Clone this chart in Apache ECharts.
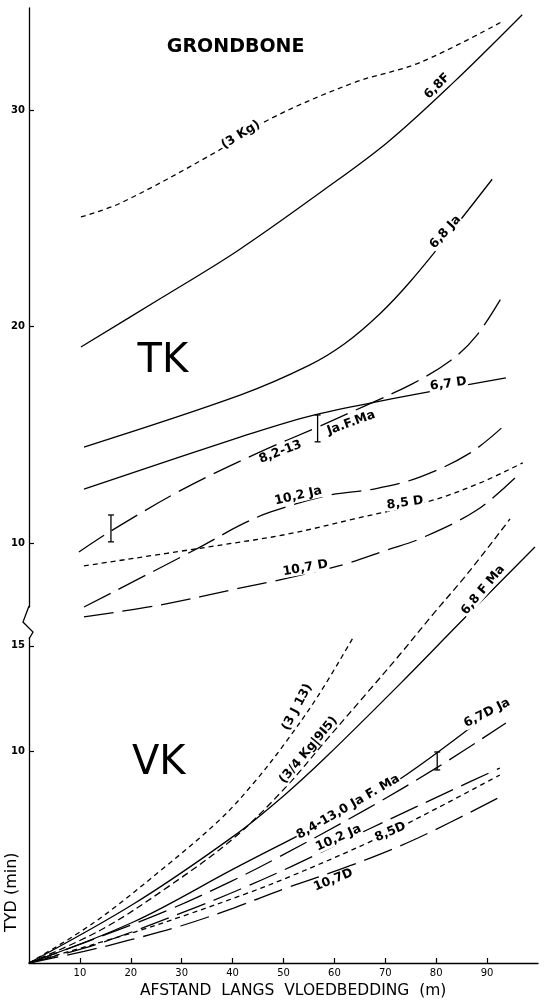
<!DOCTYPE html>
<html>
<head>
<meta charset="utf-8">
<script src="https://cdn.jsdelivr.net/npm/echarts@6/dist/echarts.min.js"></script>
<style>
  html, body { margin: 0; padding: 0; background: #fff; }
  #chart { width: 544px; height: 1003px; }
</style>
</head>
<body>
<div id="chart"></div>
<script>
// x = afstand langs vloedbedding (m), y = tyd (min)

// TK (bo-paneel)
const tk3Kg    = [[10.2,25.06],[18,25.7],[36.3,28.0],[47.5,29.6],[63.7,31.25],[76.9,32.2],[93.1,34.1]];
const tk68F    = [[10.2,19.05],[25.9,21.3],[41,23.5],[57.3,26.2],[70.4,28.5],[83.3,31.25],[96.9,34.4]];
const tk68Ja   = [[10.8,14.43],[41.6,16.84],[55,18.2],[62,19.2],[69,20.6],[75,22.1],[83,24.4],[91,26.8]];
const tk67D    = [[10.8,12.49],[41.6,14.9],[55,15.85],[69,16.55],[93.7,17.62]];
const tk82_13  = [[9.8,9.58],[16.1,10.55],[30,12.45],[44.9,14.15],[56.7,15.35],[65.7,16.3],[75.3,17.35],[82.7,18.4],[88,19.6],[93.5,21.6]];
const tk85D    = [[10.8,8.94],[37.6,9.9],[50.7,10.4],[63.7,11.1],[79,11.95],[88.6,12.77],[97,13.7]];
const tk102Ja  = [[10.8,7.04],[33.7,9.82],[41.6,10.83],[47.5,11.43],[58.8,12.2],[68,12.5],[76.9,13.05],[86.7,14.16],[93.5,15.45]];
const tk107D   = [[10.8,6.58],[25.9,7.14],[41.6,7.92],[48.4,8.25],[61.8,9.0],[70.4,9.68],[76.9,10.2],[88,11.52],[96.1,13.14]];
const tkErr    = [[16.1,10.05,11.29],[56.7,14.67,15.91]];

// VK (onder-paneel)
const vk3J13   = [[0,0],[12.7,1.9],[26.5,4.5],[37.6,6.8],[44.1,8.5],[50,10.3],[56.7,12.6],[63.7,15.4]];
const vk9I5    = [[0,0],[14.1,1.56],[27.3,3.6],[40.2,5.9],[50,8.2],[58.6,10.6],[66.5,12.8],[72.9,14.6],[79.4,16.5],[86.1,18.4],[94.5,21.0]];
const vk68FMa  = [[0,0],[20.6,2.8],[40.2,6.0],[50,7.9],[58.6,9.8],[72.9,13.2],[84.7,16.1],[99.4,19.67]];
const vk67DJa  = [[0,0],[20.6,1.95],[40.2,4.45],[59.8,6.9],[72.9,8.7],[92.5,12.2]];
const vk84_13  = [[0,0],[10.8,0.95],[27.3,2.5],[39.6,3.85],[49,5.0],[66.5,7.3],[80.2,9.25],[93.7,11.35]];
const vk102Ja  = [[0,0],[14.1,0.95],[32.4,2.6],[41.6,3.5],[51.4,4.55],[66.5,6.3],[83.3,8.2],[92.5,9.22]];
const vk85D    = [[0,0],[20.6,1.45],[31.2,2.3],[42.9,3.3],[51.4,4.1],[67.6,5.8],[80,7.3],[92.5,8.89]];
const vk107D   = [[0,0],[10.8,0.55],[20,1.1],[29.8,1.75],[40.2,2.6],[50,3.5],[63.1,4.6],[76.3,5.9],[92.5,7.85]];
const vkErr    = [[80.2,9.13,9.98]];

// tick labels
const xTicks   = [10,20,30,40,50,60,70,80,90];
const tkTicks  = [10,20,30];
const vkTicks  = [10,15];

// annotations [text, x, y]
const tkNotes = [
  ['GRONDBONE', 40.6, 32.9],
  ['(3 Kg)', 41.6, 28.85],
  ['6,8F', 80.2, 31.1],
  ['6,8 Ja', 81.8, 24.36],
  ['TK', 26.3, 18.36],
  ['6,7 D', 82.4, 17.34],
  ['8,2-13', 49.4, 14.2],
  ['Ja.F.Ma', 63.3, 15.54],
  ['10,2 Ja', 52.9, 12.17],
  ['8,5 D', 73.9, 11.85],
  ['10,7 D', 54.3, 8.84]
];
const vkNotes = [
  ['VK', 25.5, 9.41],
  ['(3 J 13)', 52.7, 12.1],
  ['(3/4 Kg|9I5)', 54.9, 10.07],
  ['6,8 F Ma', 89.2, 17.64],
  ['6,7D Ja', 90, 11.82],
  ['8,4-13,0 Ja F. Ma', 62.7, 7.38],
  ['10,2 Ja', 60.8, 5.91],
  ['8,5D', 71, 6.19],
  ['10,7D', 59.8, 3.92]
];

const chart = echarts.init(document.getElementById('chart'));
const font = 'DejaVu Sans';
const ink = '#000';
const SHORT = [5, 4];
const MED = [7, 4];
const LONG = [30, 9];

function curve(data, idx, dash) {
  return {
    type: 'line', xAxisIndex: idx, yAxisIndex: idx,
    data: data, smooth: 0.35, symbol: 'none', clip: false, silent: true,
    lineStyle: { color: ink, width: 1.3, type: dash || 'solid' }
  };
}

function errBars(data, idx) {
  return {
    type: 'custom', xAxisIndex: idx, yAxisIndex: idx, clip: false, silent: true,
    data: data,
    renderItem: function (params, api) {
      const lo = api.coord([api.value(0), api.value(1)]);
      const hi = api.coord([api.value(0), api.value(2)]);
      const st = { stroke: ink, lineWidth: 1.3 };
      return {
        type: 'group',
        children: [
          { type: 'line', shape: { x1: lo[0], y1: lo[1], x2: hi[0], y2: hi[1] }, style: st },
          { type: 'line', shape: { x1: lo[0] - 3, y1: lo[1], x2: lo[0] + 3, y2: lo[1] }, style: st },
          { type: 'line', shape: { x1: hi[0] - 3, y1: hi[1], x2: hi[0] + 3, y2: hi[1] }, style: st }
        ]
      };
    }
  };
}

// label rotation / size per annotation (same order as the notes)
const tkLook = [
  { size: 19, rot: 0, mask: false },
  { rot: 32 }, { rot: 45 }, { rot: 48 },
  { size: 40, rot: 0, mask: false, thin: true },
  { rot: 8 }, { rot: 21 }, { rot: 20 }, { rot: 13 }, { rot: 8 }, { rot: 10 }
];
const vkLook = [
  { size: 40, rot: 0, mask: false, thin: true },
  { rot: 62 }, { rot: 50 }, { rot: 50 }, { rot: 27 }, { rot: 30 }, { rot: 24 }, { rot: 23 }, { rot: 22 }
];

function notes(list, look, idx) {
  return {
    type: 'scatter', xAxisIndex: idx, yAxisIndex: idx, symbolSize: 0, silent: true, clip: false,
    z: 5, itemStyle: { opacity: 1 },
    data: list.map(function (n, i) {
      const l = look[i] || {};
      const size = l.size || 12.5;
      return {
        value: [n[1], n[2]], name: n[0],
        label: {
          show: true, position: 'inside', formatter: '{b}',
          rotate: l.rot || 0,
          fontFamily: font, fontSize: size,
          fontWeight: l.thin ? 'normal' : 'bold',
          color: ink, opacity: 1, lineHeight: size,
          backgroundColor: l.mask === false ? 'transparent' : '#fff',
          padding: [0, 1]
        }
      };
    })
  };
}

const option = {
  backgroundColor: '#fff',
  animation: false,
  grid: [
    { left: 29, right: 6, top: 8, height: 599 },
    { left: 29, right: 6, top: 638, height: 325 }
  ],
  xAxis: [
    { gridIndex: 0, type: 'value', min: 0, max: 100, show: false },
    {
      gridIndex: 1, type: 'value', min: 0, max: 100, interval: 10,
      axisLine: { lineStyle: { color: ink, width: 1.3 } },
      axisTick: { inside: true, length: 5, customValues: xTicks, lineStyle: { color: ink, width: 1.2 } },
      axisLabel: { customValues: xTicks, color: ink, fontFamily: font, fontSize: 10, margin: 5 },
      splitLine: { show: false }
    }
  ],
  yAxis: [
    {
      gridIndex: 0, type: 'value', min: 7.04, max: 34.71,
      axisLine: { show: true, lineStyle: { color: ink, width: 1.3 } },
      axisTick: { inside: true, length: 5, customValues: tkTicks, lineStyle: { color: ink, width: 1.2 } },
      axisLabel: { customValues: tkTicks, color: ink, fontFamily: font, fontSize: 10, fontWeight: 'bold', margin: 4 },
      splitLine: { show: false }
    },
    {
      gridIndex: 1, type: 'value', min: 0, max: 15.37,
      axisLine: { show: true, lineStyle: { color: ink, width: 1.3 } },
      axisTick: { inside: true, length: 5, customValues: vkTicks, lineStyle: { color: ink, width: 1.2 } },
      axisLabel: { customValues: vkTicks, color: ink, fontFamily: font, fontSize: 10, fontWeight: 'bold', margin: 4 },
      splitLine: { show: false }
    }
  ],
  graphic: [
    {
      type: 'polyline', silent: true,
      shape: { points: [[29, 606], [23, 622], [33, 632], [29, 639]] },
      style: { stroke: ink, lineWidth: 1.3, fill: null }
    },
    {
      type: 'text', left: 140, top: 983, silent: true,
      style: { text: 'AFSTAND  LANGS  VLOEDBEDDING  (m)', fontFamily: font, fontSize: 15.5, fill: ink }
    },
    {
      type: 'text', x: 4, y: 932, rotation: Math.PI / 2, silent: true,
      style: { text: 'TYD (min)', fontFamily: font, fontSize: 16, fill: ink, align: 'left', verticalAlign: 'top' }
    }
  ],
  series: [
    curve(tk3Kg, 0, SHORT),
    curve(tk68F, 0),
    curve(tk68Ja, 0),
    curve(tk67D, 0),
    curve(tk82_13, 0, LONG),
    curve(tk85D, 0, SHORT),
    curve(tk102Ja, 0, LONG),
    curve(tk107D, 0, LONG),
    errBars(tkErr, 0),
    curve(vk3J13, 1, SHORT),
    curve(vk9I5, 1, MED),
    curve(vk68FMa, 1),
    curve(vk67DJa, 1),
    curve(vk84_13, 1, LONG),
    curve(vk102Ja, 1, LONG),
    curve(vk85D, 1, SHORT),
    curve(vk107D, 1, LONG),
    errBars(vkErr, 1),
    notes(tkNotes, tkLook, 0),
    notes(vkNotes, vkLook, 1)
  ]
};

chart.setOption(option);
</script>
</body>
</html>
